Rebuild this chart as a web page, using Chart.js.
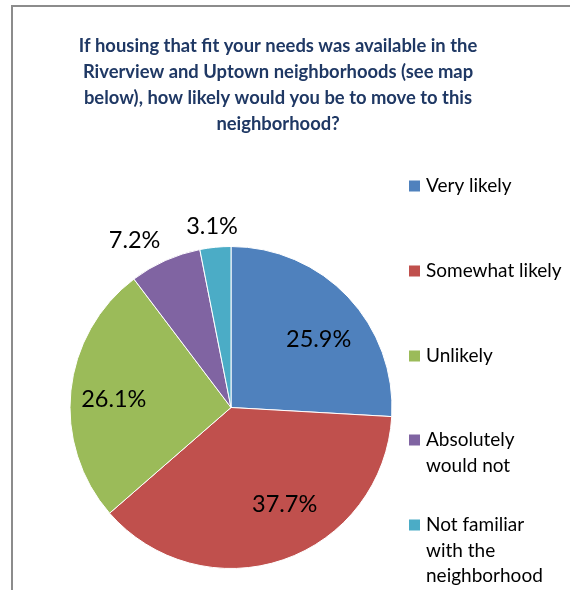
<!DOCTYPE html>
<html>
<head>
<meta charset="utf-8">
<script src="https://cdn.jsdelivr.net/npm/chart.js@4.4.1/dist/chart.umd.min.js"></script>
<style>
  html, body { margin: 0; padding: 0; background: #fff; }
  #wrap { width: 570px; height: 590px; position: relative; }
</style>
</head>
<body>
<div id="wrap"><canvas id="c" width="570" height="590"></canvas></div>
<script>
// Survey answers, in the order they go round the pie (clockwise from 12 o'clock)
const categories = ['Very likely', 'Somewhat likely', 'Unlikely', 'Absolutely would not', 'Not familiar with the neighborhood'];
const shares = [25.9, 37.7, 26.1, 7.2, 3.1];
const sliceColors = ['#4F81BD', '#C0504D', '#9BBB59', '#8064A2', '#4BACC6'];
// Legend entries wrapped the way they are printed
const legendLines = [['Very likely'], ['Somewhat likely'], ['Unlikely'], ['Absolutely', 'would not'], ['Not familiar', 'with the', 'neighborhood']];
const titleLines = [
  'If housing that fit your needs was available in the',
  'Riverview and Uptown neighborhoods (see map',
  'below), how likely would you be to move to this',
  'neighborhood?'
];

const FONT = 'Lato, "Open Sans", sans-serif';

// Where each value label sits: fraction of the radius, and a small turn (degrees) off the slice middle
const labelRadius = [0.69, 0.69, 0.73, 1.20, 1.13];
const labelTurn = [5.5, -10, -1.8, -5.8, -0.4];

// Frame, heading, value labels and legend drawn around the pie
const decorations = {
  id: 'decorations',
  beforeDraw(chart) {
    const ctx = chart.ctx;
    ctx.save();
    ctx.strokeStyle = '#8C8C8C';
    ctx.lineWidth = 2;
    ctx.beginPath();
    ctx.moveTo(12, 590);
    ctx.lineTo(12, 6);
    ctx.lineTo(570, 6);
    ctx.stroke();
    ctx.restore();
  },
  afterDraw(chart) {
    const ctx = chart.ctx;
    ctx.save();
    // heading
    ctx.fillStyle = '#1F3864';
    ctx.font = 'bold 18.4px ' + FONT;
    ctx.textAlign = 'center';
    ctx.textBaseline = 'middle';
    titleLines.forEach((t, i) => ctx.fillText(t, 278, 46 + i * 26));

    // value labels at the slices
    const meta = chart.getDatasetMeta(0);
    ctx.fillStyle = '#000';
    ctx.font = '23.5px ' + FONT;
    meta.data.forEach((arc, i) => {
      const p = arc.getProps(['x', 'y', 'startAngle', 'endAngle', 'outerRadius'], true);
      const mid = (p.startAngle + p.endAngle) / 2 + labelTurn[i] * Math.PI / 180;
      const r = p.outerRadius * labelRadius[i];
      ctx.fillText(shares[i].toFixed(1) + '%', p.x + Math.cos(mid) * r, p.y + Math.sin(mid) * r);
    });

    // legend
    ctx.font = '19px ' + FONT;
    ctx.textAlign = 'left';
    const tops = [186, 271, 356, 440, 525];
    legendLines.forEach((lines, i) => {
      ctx.fillStyle = sliceColors[i];
      ctx.fillRect(409, tops[i] - 5.5, 11, 11);
      ctx.fillStyle = '#000';
      lines.forEach((t, j) => ctx.fillText(t, 426, tops[i] + j * 25.5));
    });
    ctx.restore();
  }
};

new Chart(document.getElementById('c'), {
  type: 'pie',
  data: {
    labels: categories,
    datasets: [{
      data: shares,
      backgroundColor: sliceColors,
      borderColor: '#ffffff',
      borderWidth: 1
    }]
  },
  options: {
    responsive: false,
    animation: false,
    rotation: 0,
    layout: { padding: { left: 69.5, right: 177.5, top: 246, bottom: 21 } },
    plugins: {
      legend: { display: false },
      tooltip: { enabled: false },
      title: { display: false }
    }
  },
  plugins: [decorations]
});
</script>
</body>
</html>
